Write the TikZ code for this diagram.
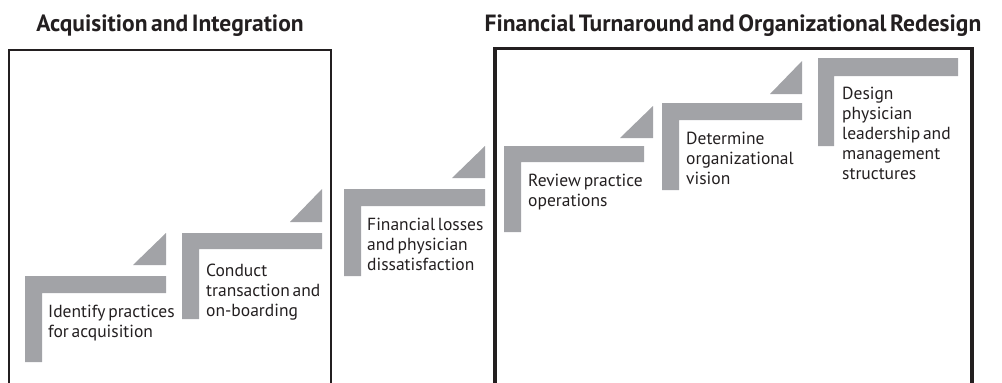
\documentclass[tikz,border=0pt]{standalone}
\usepackage{fontspec}
\setmainfont{PT Sans}[WordSpace=0.6]
\usepackage{tikz}
\definecolor{stepgray}{RGB}{162,163,167}
\definecolor{ink}{RGB}{35,31,32}
\tikzset{
  stair/.style={fill=stepgray},
  frame/.style={draw=ink,line cap=butt},
  steptext/.style={anchor=north west,inner sep=0pt,align=left,text=ink,
    font=\fontsize{17.5}{20}\selectfont},
  phase/.style={anchor=base,inner sep=0pt,text=ink,
    font=\fontsize{23.5}{26}\selectfont\bfseries},
}

\begin{document}
\begin{tikzpicture}[x=1pt,y=-1pt]
\useasboundingbox (0,0) rectangle (1002,383);
% the two phase frames, open at the bottom
\draw[frame,line width=1.5pt] (9,390)--(9,50)--(331,50)--(331,390);
\draw[frame,line width=3.5pt] (495,390)--(495,48.5)--(972,48.5)--(972,390);
\node[phase] (acq) at (170,31) {Acquisition and Integration};
\node[phase] (turn) at (733,31) {Financial Turnaround and Organizational Redesign};
% steps: L bar, then the wedge above it
\fill[stair] (25,276)--++(141,0)--++(0,17)--++(-124,0)--++(0,69)--++(-17,0)--cycle;
\fill[stair] (133,265)--++(33,0)--++(0,-32)--cycle;
\fill[stair] (182,233)--++(140,0)--++(0,16)--++(-123,0)--++(0,70)--++(-17,0)--cycle;
\fill[stair] (290,222)--++(32,0)--++(0,-33)--cycle;
\fill[stair] (344,189)--++(141,0)--++(0,17)--++(-124,0)--++(0,70)--++(-17,0)--cycle;
\fill[stair] (452,178)--++(33,0)--++(0,-32)--cycle;
\fill[stair] (504,146)--++(140,0)--++(0,16)--++(-123,0)--++(0,70)--++(-17,0)--cycle;
\fill[stair] (620,138)--++(33,0)--++(0,-32)--cycle;
\fill[stair] (662,103)--++(140,0)--++(0,17)--++(-123,0)--++(0,70)--++(-17,0)--cycle;
\fill[stair] (770,94)--++(32,0)--++(0,-33)--cycle;
\fill[stair] (818,58)--++(140,0)--++(0,18)--++(-124,0)--++(0,70)--++(-16,0)--cycle;
%\fill[stair] (926,47)--++(32,0)--++(0,-33)--cycle;
\node[steptext] (identify) at (48,305) {Identify practices\\for acquisition};
\node[steptext] (conduct) at (206,264) {Conduct\\transaction and\\on-boarding};
\node[steptext] (losses) at (367,218) {Financial losses\\and physician\\dissatisfaction};
\node[steptext] (review) at (528,174) {Review practice\\operations};
\node[steptext] (vision) at (686,132) {Determine\\organizational\\vision};
\node[steptext] (design) at (842,87) {Design\\physician\\leadership and\\management\\structures};
\end{tikzpicture}
\end{document}
